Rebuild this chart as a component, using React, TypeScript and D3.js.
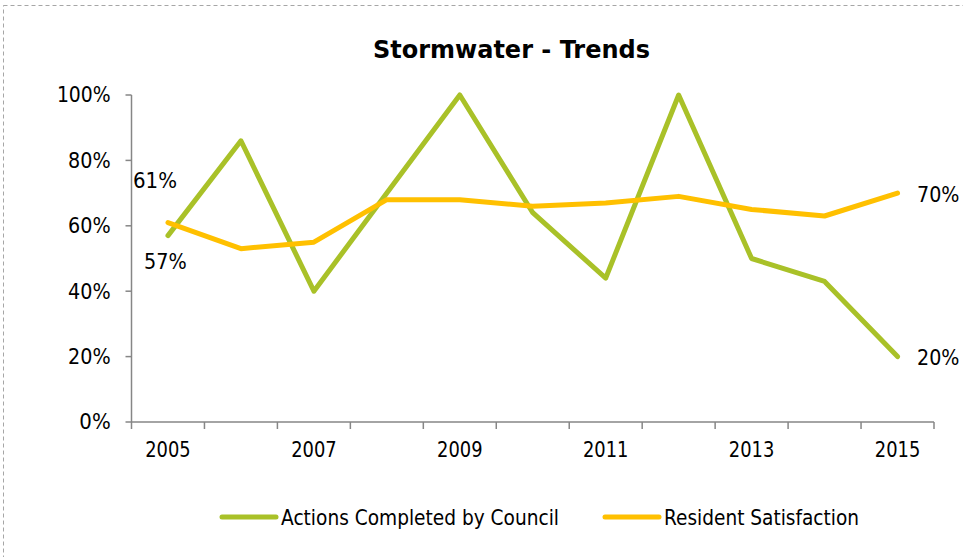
import React from "react";
import * as d3 from "d3";

const years = ["2005","2006","2007","2008","2009","2010","2011","2012","2013","2014","2015"];
const actions = [57, 86, 40, 70, 100, 64, 44, 100, 50, 43, 20];
const satisfaction = [61, 53, 55, 68, 68, 66, 67, 69, 65, 63, 70];
const yTicks = [0, 20, 40, 60, 80, 100];
const xTickLabels = ["2005","2007","2009","2011","2013","2015"];
const seriesNames = ["Actions Completed by Council", "Resident Satisfaction"];
const seriesColors = ["#A9C128", "#FFC000"];

const W = 963, H = 557;
const FONT = "'DejaVu Sans', Verdana, sans-serif";

function Txt(props: { x: number; y: number; w: number; size: number; anchor?: string; bold?: boolean; children: React.ReactNode }) {
  return (
    <text x={props.x} y={props.y} textLength={props.w} lengthAdjust="spacingAndGlyphs"
      textAnchor={props.anchor || "start"} fontSize={props.size} fontWeight={props.bold ? "bold" : "normal"} fill="#000">
      {props.children}
    </text>
  );
}

export default function App() {
  const left = 131.5, right = 934, top = 95, bottom = 422;
  const x = d3.scaleBand<string>().domain(years).range([left, right]).paddingInner(0).paddingOuter(0);
  const y = d3.scaleLinear().domain([0, 100]).range([bottom, top]);
  const cx = (yr: string) => (x(yr) as number) + x.bandwidth() / 2;
  const line = d3.line<number>().x((_, i) => cx(years[i])).y(d => y(d));
  const boundaries = years.map(yr => x(yr) as number).concat([right]);
  const fs = 20.5;
  const yLabelW = (t: number) => (t === 100 ? 53.8 : t === 0 ? 31.4 : 42.6);
  const legend = [
    { lx: 222, tx: 281, w: 278 },
    { lx: 605, tx: 664, w: 195 },
  ];
  return (
    <div style={{ position: "absolute", left: 0, top: 0 }}>
      <svg width={W} height={H} style={{ display: "block", background: "#fff" }} fontFamily={FONT}>
        <rect x={3.5} y={5.5} width={1000} height={600} fill="#fff" stroke="#a6a6a6" strokeDasharray="4,3" strokeWidth={1} />
        <Txt x={511.5} y={58.3} w={277} size={24.5} anchor="middle" bold>Stormwater - Trends</Txt>
        {/* y axis */}
        <line x1={left} x2={left} y1={top} y2={bottom} stroke="#868686" strokeWidth={1.5} />
        {yTicks.map(t => (
          <g key={t}>
            <line x1={left - 6} x2={left} y1={y(t)} y2={y(t)} stroke="#868686" strokeWidth={1.5} />
            <Txt x={110.7} y={y(t) + 7.3} w={yLabelW(t)} size={fs} anchor="end">{t}%</Txt>
          </g>
        ))}
        {/* x axis */}
        <line x1={left} x2={right} y1={bottom} y2={bottom} stroke="#868686" strokeWidth={1.5} />
        {boundaries.map((b, i) => (
          <line key={i} x1={b} x2={b} y1={bottom} y2={bottom + 7} stroke="#868686" strokeWidth={1.5} />
        ))}
        {xTickLabels.map(l => (
          <Txt key={l} x={cx(l)} y={457.3} w={45.5} size={fs} anchor="middle">{l}</Txt>
        ))}
        {/* lines */}
        <path d={line(actions) || ""} fill="none" stroke={seriesColors[0]} strokeWidth={5} strokeLinejoin="round" strokeLinecap="round" />
        <path d={line(satisfaction) || ""} fill="none" stroke={seriesColors[1]} strokeWidth={5} strokeLinejoin="round" strokeLinecap="round" />
        {/* data labels */}
        <Txt x={cx(years[0]) - 35} y={y(satisfaction[0]) - 35} w={44} size={fs}>{satisfaction[0]}%</Txt>
        <Txt x={cx(years[0]) - 24} y={y(actions[0]) + 33.5} w={42.7} size={fs}>{actions[0]}%</Txt>
        <Txt x={cx(years[10]) + 19.5} y={y(satisfaction[10]) + 8.7} w={42.4} size={fs}>{satisfaction[10]}%</Txt>
        <Txt x={cx(years[10]) + 19.5} y={y(actions[10]) + 8.6} w={42.4} size={fs}>{actions[10]}%</Txt>
        {/* legend */}
        {legend.map((L, i) => (
          <g key={i}>
            <line x1={L.lx} x2={L.lx + 54} y1={517} y2={517} stroke={seriesColors[i]} strokeWidth={5} strokeLinecap="round" />
            <Txt x={L.tx} y={524.5} w={L.w} size={20.5}>{seriesNames[i]}</Txt>
          </g>
        ))}
      </svg>
    </div>
  );
}
